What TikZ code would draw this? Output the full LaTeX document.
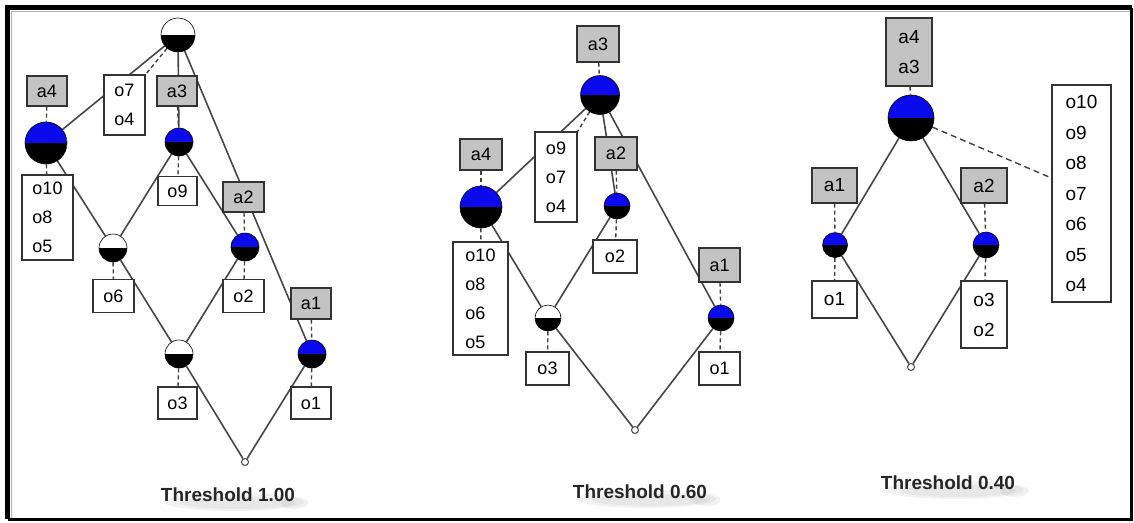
\documentclass[tikz,border=0pt]{standalone}
\usepackage{fontspec}
\setmainfont{Liberation Sans}
\usetikzlibrary{calc}
\pgfdeclarelayer{bg}
\pgfsetlayers{bg,main}
\definecolor{cblue}{RGB}{10,10,235}
\definecolor{lgray}{RGB}{195,195,195}
\definecolor{edgec}{RGB}{70,70,70}
\tikzset{
 conc/.style={circle, draw=black, line width=0.6pt, inner sep=0pt},
 bc/.style={conc, minimum size=#1, path picture={
   \fill[cblue] (path picture bounding box.north west) rectangle (path picture bounding box.east);
   \fill[black] (path picture bounding box.west) rectangle (path picture bounding box.south east);}},
 wc/.style={conc, minimum size=#1, path picture={
   \fill[white] (path picture bounding box.north west) rectangle (path picture bounding box.east);
   \fill[black] (path picture bounding box.west) rectangle (path picture bounding box.south east);}},
 botnode/.style={circle, draw=edgec, fill=white, line width=1pt, inner sep=0pt, minimum size=7},
 attr/.style={draw=black!80, fill=lgray, line width=1.2pt, inner sep=0pt, align=center, font=\fontsize{18}{28}\selectfont},
 obj/.style={draw=black!80, fill=white, line width=1.2pt, inner sep=0pt, align=left, font=\fontsize{18}{29}\selectfont},
 cedge/.style={draw=edgec, line width=1.6pt},
 lnk/.style={draw=black!75, line width=1.4pt, dash pattern=on 4pt off 3pt},
 ttl/.style={font=\bfseries\fontsize{19}{23}\selectfont, text=black!85},
 shd/.style={fill=gray, opacity=0.10},
}
\begin{document}
\begin{tikzpicture}[x=1pt,y=1pt]
\useasboundingbox (0,0) rectangle (1134,-522);
% frame
\draw[black, line width=5pt] (7.5,-519) -- (7.5,-7.5) -- (1131.5,-7.5);
\draw[black, line width=2.5pt] (1131.5,-7.5) -- (1131.5,-519.5) -- (7.5,-519.5);
\draw[gray!60, line width=0.8pt] (11,-518) -- (11,-11) -- (1130,-11);

% ---------------- Panel 1 ----------------
\node[wc=34] (t1) at (178,-35) {};
\node[bc=42] (p1n4) at (46,-143) {};
\node[bc=28] (p1n3) at (179,-142) {};
\node[wc=28] (p1n6) at (113,-248) {};
\node[bc=28] (p1n2) at (245,-247) {};
\node[wc=28] (p1n7) at (179,-354) {};
\node[bc=28] (p1n1) at (312,-354) {};
\node[botnode] (p1b) at (245,-462) {};

\node[attr, minimum width=40, minimum height=30] (p1a4) at (47,-91) {a4};
\node[obj, minimum width=41, minimum height=60] (p1o74) at (124.5,-105) {o7\\o4};
\node[attr, minimum width=40, minimum height=30] (p1a3) at (177,-91) {a3};
\node[obj, minimum width=51, minimum height=85] (p1o10) at (47.5,-217.5) {o10\\o8\\o5};
\node[obj, minimum width=39, minimum height=29] (p1o9) at (177.5,-191) {o9};
\node[attr, minimum width=41, minimum height=30] (p1a2) at (243.5,-197) {a2};
\node[obj, minimum width=41, minimum height=33] (p1o6) at (113.5,-296) {o6};
\node[obj, minimum width=41, minimum height=33] (p1o2) at (243.5,-296) {o2};
\node[attr, minimum width=40, minimum height=31] (p1a1) at (311,-303.5) {a1};
\node[obj, minimum width=39, minimum height=32] (p1o3) at (177.5,-403) {o3};
\node[obj, minimum width=40, minimum height=32] (p1o1) at (311,-403) {o1};
\node[ttl] (p1t) at (228,-495) {Threshold 1.00};

% ---------------- Panel 2 ----------------
\node[bc=39] (t2) at (600,-95) {};
\node[bc=42] (p2n4) at (481,-207) {};
\node[bc=26] (p2n2) at (617,-206) {};
\node[wc=26] (p2n3) at (548,-318) {};
\node[bc=26] (p2n1) at (721,-318) {};
\node[botnode] (p2b) at (635,-430) {};

\node[attr, minimum width=42, minimum height=36] (p2a3) at (598,-44) {a3};
\node[obj, minimum width=42, minimum height=90] (p2o9) at (556,-177) {o9\\o7\\o4};
\node[attr, minimum width=42, minimum height=31] (p2a4) at (481,-154.5) {a4};
\node[attr, minimum width=42, minimum height=33] (p2a2) at (616,-153.5) {a2};
\node[obj, minimum width=55, minimum height=113] (p2o10) at (480.5,-298.5) {o10\\o8\\o6\\o5};
\node[obj, minimum width=44, minimum height=33] (p2o2) at (615,-256.5) {o2};
\node[attr, minimum width=41, minimum height=34] (p2a1) at (719.5,-265) {a1};
\node[obj, minimum width=43, minimum height=33] (p2o3) at (547.5,-368.5) {o3};
\node[obj, minimum width=41, minimum height=33] (p2o1) at (719.5,-368.5) {o1};
\node[ttl] (p2t) at (640,-492) {Threshold 0.60};

% ---------------- Panel 3 ----------------
\node[bc=46] (t3) at (911,-118) {};
\node[bc=25] (p3n1) at (835,-245) {};
\node[bc=26] (p3n2) at (986,-245) {};
\node[botnode] (p3b) at (911,-367) {};

\node[attr, minimum width=46, minimum height=68, font=\fontsize{19}{30}\selectfont] (p3a43) at (909,-52) {a4\\a3};
\node[obj, minimum width=59, minimum height=217, font=\fontsize{19}{30.5}\selectfont] (p3ob) at (1081.5,-193.5) {o10\\o9\\o8\\o7\\o6\\o5\\o4};
\node[attr, minimum width=45, minimum height=35, font=\fontsize{19}{30}\selectfont] (p3a1) at (834.5,-185.5) {a1};
\node[attr, minimum width=46, minimum height=35, font=\fontsize{19}{30}\selectfont] (p3a2) at (984,-185.5) {a2};
\node[obj, minimum width=45, minimum height=37, font=\fontsize{19}{30}\selectfont] (p3o1) at (834.5,-299.5) {o1};
\node[obj, minimum width=46, minimum height=67, font=\fontsize{19}{30}\selectfont] (p3o32) at (984,-314.5) {o3\\o2};
\node[ttl] (p3t) at (948,-483) {Threshold 0.40};

\begin{pgfonlayer}{bg}
% title shadows
\foreach \t in {p1t,p2t,p3t}{
  \fill[shd] ($(\t.center)+(6,-7)$) ellipse (70 and 9);
  \fill[shd] ($(\t.center)+(10,-8)$) ellipse (58 and 6);
  \fill[shd] ($(\t.east)+(-4,-8)$) ellipse (14 and 6);
}
% panel 1 edges
\draw[cedge] (t1) -- (p1n4);
\draw[cedge] (t1) -- (p1n3);
\draw[cedge] (t1) -- (p1n1);
\draw[cedge] (p1n4) -- (p1n6);
\draw[cedge] (p1n3) -- (p1n6);
\draw[cedge] (p1n3) -- (p1n2);
\draw[cedge] (p1n6) -- (p1n7);
\draw[cedge] (p1n2) -- (p1n7);
\draw[cedge] (p1n7) -- (p1b);
\draw[cedge] (p1n1) -- (p1b);
\draw[lnk] (t1) -- (p1o74.north east);
\draw[lnk] (p1a4) -- (p1n4);
\draw[lnk] (p1n4) -- (p1o10);
\draw[lnk] (p1a3) -- (p1n3);
\draw[lnk] (p1n3) -- (p1o9);
\draw[lnk] (p1a2) -- (p1n2);
\draw[lnk] (p1n6) -- (p1o6);
\draw[lnk] (p1n2) -- (p1o2);
\draw[lnk] (p1a1) -- (p1n1);
\draw[lnk] (p1n7) -- (p1o3);
\draw[lnk] (p1n1) -- (p1o1);
% panel 2 edges
\draw[cedge] (t2) -- (p2n4);
\draw[cedge] (t2) -- (p2n2);
\draw[cedge] (t2) -- (p2n1);
\draw[cedge] (p2n4) -- (p2n3);
\draw[cedge] (p2n2) -- (p2n3);
\draw[cedge] (p2n3) -- (p2b);
\draw[cedge] (p2n1) -- (p2b);
\draw[lnk] (p2a3) -- (t2);
\draw[lnk] (t2) -- (p2o9.north east);
\draw[lnk] (p2a4) -- (p2n4);
\draw[lnk] (p2n4) -- (p2o10);
\draw[lnk] (p2a2) -- (p2n2);
\draw[lnk] (p2n2) -- (p2o2);
\draw[lnk] (p2a1) -- (p2n1);
\draw[lnk] (p2n3) -- (p2o3);
\draw[lnk] (p2n1) -- (p2o1);
% panel 3 edges
\draw[cedge] (t3) -- (p3n1);
\draw[cedge] (t3) -- (p3n2);
\draw[cedge] (p3n1) -- (p3b);
\draw[cedge] (p3n2) -- (p3b);
\draw[lnk] (p3a43) -- (t3);
\draw[lnk, dash pattern=on 6pt off 4pt] (t3) -- ([yshift=15.5pt]p3ob.west);
\draw[lnk] (p3a1) -- (p3n1);
\draw[lnk] (p3n1) -- (p3o1);
\draw[lnk] (p3a2) -- (p3n2);
\draw[lnk] (p3n2) -- (p3o32);
\end{pgfonlayer}
\end{tikzpicture}
\end{document}
